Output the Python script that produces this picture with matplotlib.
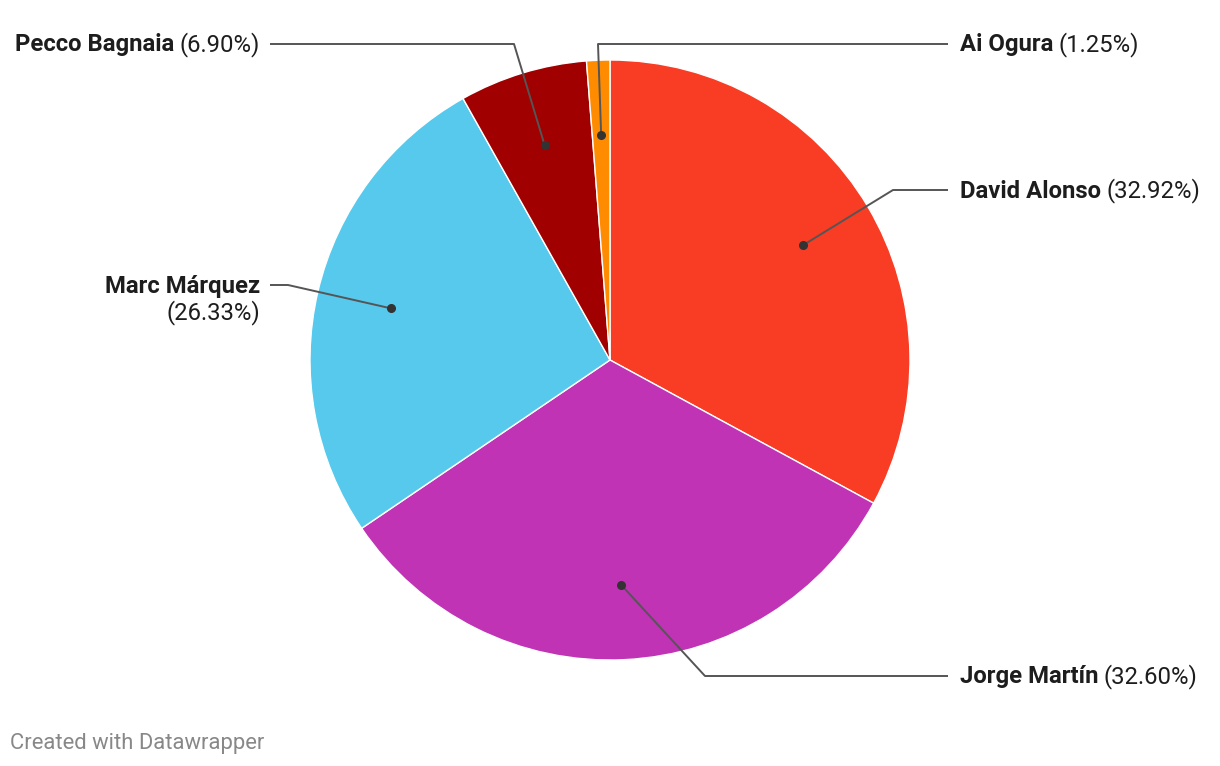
import matplotlib.pyplot as plt
import numpy as np

plt.rcParams["font.family"] = ["Roboto", "DejaVu Sans"]

riders = ["David Alonso", "Jorge Martín", "Marc Márquez", "Pecco Bagnaia", "Ai Ogura"]
shares = [32.92, 32.60, 26.33, 6.90, 1.25]
colors = ["#f93c24", "#c033b5", "#56c9ec", "#a00000", "#ff8c00"]

# label layout in pixel space: line end x, y from top, elbow x, side
label_pos = {
    "David Alonso": (948, 190, 893, "right"),
    "Jorge Martín": (948, 676, 705, "right"),
    "Marc Márquez": (270, 285, 288, "left"),
    "Pecco Bagnaia": (270, 44, 514, "left"),
    "Ai Ogura": (948, 44, 598, "right"),
}

W, H = 1220, 766
cx, cy, radius = 610, H - 360, 300

fig = plt.figure(figsize=(W / 100, H / 100), dpi=100)
ax = fig.add_axes([0, 0, 1, 1])

ax.pie(
    shares,
    colors=colors,
    startangle=90,
    counterclock=False,
    center=(cx, cy),
    radius=radius,
    wedgeprops=dict(edgecolor="white", linewidth=1),
    frame=True,
)
ax.set_xlim(0, W)
ax.set_ylim(0, H)
ax.set_aspect("equal")
ax.axis("off")

renderer = fig.canvas.get_renderer()
line_color = "#555555"
text_color = "#1d1d1d"
fs = 17.2

cum = 0.0
for name, share in zip(riders, shares):
    mid = (cum + share / 2) / 100 * 2 * np.pi
    cum += share
    dot_x = cx + 0.75 * radius * np.sin(mid)
    dot_y = cy + 0.75 * radius * np.cos(mid)
    lx, ly, elbow_x, side = label_pos[name]
    ly = H - ly
    text_x = lx + 12 if side == "right" else lx - 10
    ax.plot([dot_x, elbow_x, lx], [dot_y, ly, ly], color=line_color, lw=1.4,
            solid_capstyle="butt", zorder=3)
    ax.plot(dot_x, dot_y, "o", color="#333333", ms=5.5, zorder=4)

    pct = f"({share:.2f}%)"
    if side == "right":
        t = ax.text(text_x, ly - 1, name, fontsize=fs, fontweight="bold",
                    color=text_color, ha="left", va="center")
        bb = t.get_window_extent(renderer)
        ax.text(bb.x1 + 5, ly - 1, pct, fontsize=fs, color=text_color,
                ha="left", va="center")
    elif name == "Marc Márquez":
        ax.text(text_x, ly - 1, name, fontsize=fs, fontweight="bold",
                color=text_color, ha="right", va="center")
        ax.text(text_x, ly - 28, pct, fontsize=fs, color=text_color,
                ha="right", va="center")
    else:
        p = ax.text(text_x, ly - 1, pct, fontsize=fs, color=text_color,
                    ha="right", va="center")
        bb = p.get_window_extent(renderer)
        ax.text(bb.x0 - 5, ly - 1, name, fontsize=fs, fontweight="bold",
                color=text_color, ha="right", va="center")

ax.text(10, H - 743, "Created with Datawrapper", fontsize=15.8, color="#888888",
        ha="left", va="center")

fig.savefig("out.png", dpi=100)
